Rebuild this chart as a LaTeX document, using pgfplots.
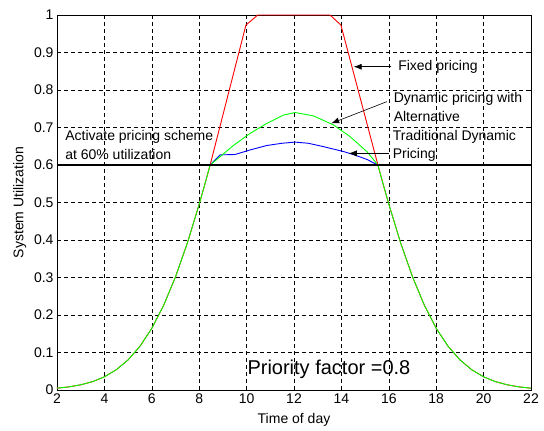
\documentclass[border=0pt]{standalone}
\usepackage{pgfplots}
\pgfplotsset{compat=1.18}
\usepackage{fontspec}
\setmainfont{Liberation Sans}
\usetikzlibrary{arrows.meta}

% shared demand curve below the 60% threshold
\pgfplotstableread{
x y
2 0.0048
2.5 0.0083
3 0.0138
3.5 0.0223
4 0.0351
4.5 0.0539
5 0.0804
5.5 0.1166
6 0.1644
6.5 0.2259
7 0.3018
7.5 0.3920
8 0.4956
8.25 0.5513
8.46 0.6
}\leftpart
\pgfplotstableread{
x y
15.54 0.6
15.75 0.5513
16 0.4956
16.5 0.3920
17 0.3018
17.5 0.2259
18 0.1644
18.5 0.1166
19 0.0804
19.5 0.0539
20 0.0351
20.5 0.0223
21 0.0138
21.5 0.0083
22 0.0048
}\rightpart

\begin{document}
\begin{tikzpicture}[font=\fontsize{14}{16}\selectfont]
\begin{axis}[
  scale only axis,
  width=474pt, height=375pt,
  xmin=2, xmax=22, ymin=0, ymax=1,
  xtick={2,4,...,22},
  ytick={0,0.1,...,1},
  yticklabels={0,0.1,0.2,0.3,0.4,0.5,0.6,0.7,0.8,0.9,1},
  /pgf/number format/assume math mode=true,
  tick align=inside,
  major tick length=4pt,
  tick style={black, line width=0.6pt},
  axis line style={black, line width=0.8pt},
  grid=major,
  major grid style={black, dash pattern=on 4pt off 3pt, line width=0.6pt},
  xlabel={Time of day},
  ylabel={System Utilization},
  xlabel style={yshift=-3pt},
  ylabel style={yshift=1pt},
  clip=false,
]
% fixed pricing
\addplot[red, line width=0.9pt] coordinates {
(2,0.0048) (2.5,0.0083) (3,0.0138) (3.5,0.0223) (4,0.0351) (4.5,0.0539) (5,0.0804) (5.5,0.1166) (6,0.1644) (6.5,0.2259) (7,0.3018) (7.5,0.3920) (8,0.4956) (8.25,0.5513) (8.46,0.6)
(9.97,0.973) (10.47,1) (13.52,1) (13.98,0.973) (15.54,0.6)
(15.75,0.5513) (16,0.4956) (16.5,0.3920) (17,0.3018) (17.5,0.2259) (18,0.1644) (18.5,0.1166) (19,0.0804) (19.5,0.0539) (20,0.0351) (20.5,0.0223) (21,0.0138) (21.5,0.0083) (22,0.0048)};
% traditional dynamic pricing
\addplot[blue, line width=0.9pt] coordinates {
(8.46,0.6) (8.88,0.627) (9.51,0.628) (10.14,0.64) (10.85,0.652) (11.5,0.658) (12.04,0.661) (12.6,0.658) (13.24,0.649) (14.08,0.636) (14.5,0.628) (15.07,0.615) (15.54,0.6)};
% dynamic pricing with alternative
\addplot[green, line width=0.9pt] table {\leftpart};
\addplot[green, line width=0.9pt] coordinates {
(8.46,0.6) (8.88,0.622) (9.44,0.652) (10.14,0.684) (10.85,0.711) (11.55,0.733) (12.04,0.74) (12.82,0.731) (13.66,0.707) (14.36,0.676) (15.07,0.636) (15.54,0.6)};
\addplot[green, line width=0.9pt] table {\rightpart};
% 60% threshold
\addplot[black, line width=1.8pt] coordinates {(2,0.6) (22,0.6)};

\draw[-{Latex[length=8pt,width=6pt]}, line width=0.6pt] (axis cs:16.11,0.862) -- (axis cs:14.52,0.862);
\draw[-{Latex[length=8pt,width=6pt]}, line width=0.6pt] (axis cs:15.92,0.769) -- (axis cs:13.57,0.711);
\draw[-{Latex[length=8pt,width=6pt]}, line width=0.6pt] (axis cs:15.99,0.631) -- (axis cs:14.31,0.631);

\node[anchor=west, inner sep=0pt] at (axis cs:16.39,0.862) {Fixed pricing};
\node[anchor=west, inner sep=0pt] at (axis cs:16.2,0.775) {Dynamic pricing with};
\node[anchor=west, inner sep=0pt] at (axis cs:16.2,0.729) {Alternative};
\node[anchor=west, inner sep=0pt] at (axis cs:16.16,0.674) {Traditional Dynamic};
\node[anchor=west, inner sep=0pt] at (axis cs:16.16,0.627) {Pricing};
\node[anchor=west, inner sep=0pt] at (axis cs:2.34,0.675) {Activate pricing scheme};
\node[anchor=west, inner sep=0pt] at (axis cs:2.34,0.628) {at 60\% utilization};
\node[anchor=west, inner sep=0pt, font=\fontsize{20}{24}\selectfont] at (axis cs:10.03,0.056) {Priority factor =0.8};

\coordinate (bl) at (rel axis cs:-0.1203,-0.1067);
\coordinate (tr) at (rel axis cs:1.0274,1.04);
\end{axis}
\pgfresetboundingbox
\path (bl) rectangle (tr);
\end{tikzpicture}
\end{document}
